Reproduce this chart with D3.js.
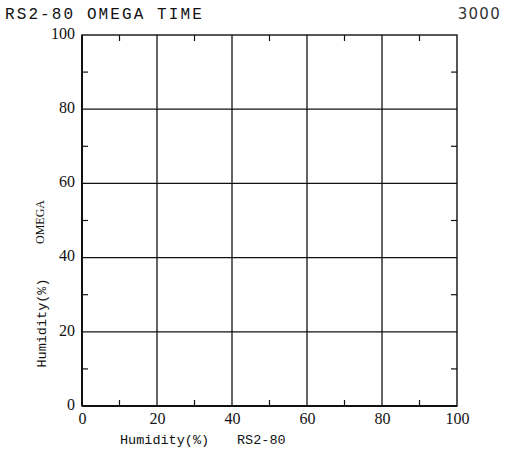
<!DOCTYPE html>
<html>
<head>
<meta charset="utf-8">
<script src="https://cdn.jsdelivr.net/npm/d3@7"></script>
<style>
  body { margin: 0; background: #fff; }
  svg { display: block; }
</style>
</head>
<body>
<div id="chart"></div>
<script>
// chart content
const titleText = "RS2-80 OMEGA TIME";
const cornerText = "3000";
const xLabel = "Humidity(%)";
const xLabel2 = "RS2-80";
const yLabelTop = "OMEGA";
const yLabelBottom = "Humidity(%)";
const xDomain = [0, 100];
const yDomain = [0, 100];
const majorTicks = [0, 20, 40, 60, 80, 100];
const minorTicks = [10, 30, 50, 70, 90];

const W = 513, H = 452;
const margin = {top: 35, right: 56, bottom: 46, left: 82},
    width = W - margin.left - margin.right,
    height = H - margin.top - margin.bottom;

const root = d3.select("#chart").append("svg")
    .attr("width", W)
    .attr("height", H);

const svg = root.append("g")
    .attr("transform", `translate(${margin.left},${margin.top})`);

const x = d3.scaleLinear().domain(xDomain).range([0, width]);
const y = d3.scaleLinear().domain(yDomain).range([height, 0]);

const ink = "#111";

// grid lines (major)
svg.selectAll(".vgrid")
  .data(majorTicks.slice(1, -1))
  .join("line")
    .attr("x1", d => x(d)).attr("x2", d => x(d))
    .attr("y1", 0).attr("y2", height)
    .attr("stroke", ink).attr("stroke-width", 1.3);

svg.selectAll(".hgrid")
  .data(majorTicks.slice(1, -1))
  .join("line")
    .attr("y1", d => y(d)).attr("y2", d => y(d))
    .attr("x1", 0).attr("x2", width)
    .attr("stroke", ink).attr("stroke-width", 1.3);

// minor ticks pointing inward on all four sides
const tl = 6;
const minor = svg.append("g").attr("stroke", ink).attr("stroke-width", 1.2);
minor.selectAll(".mb").data(minorTicks).join("line")
  .attr("x1", d => x(d)).attr("x2", d => x(d)).attr("y1", height).attr("y2", height - tl);
minor.selectAll(".mt").data(minorTicks).join("line")
  .attr("x1", d => x(d)).attr("x2", d => x(d)).attr("y1", 0).attr("y2", tl);
minor.selectAll(".ml").data(minorTicks).join("line")
  .attr("y1", d => y(d)).attr("y2", d => y(d)).attr("x1", 0).attr("x2", tl);
minor.selectAll(".mr").data(minorTicks).join("line")
  .attr("y1", d => y(d)).attr("y2", d => y(d)).attr("x1", width).attr("x2", width - tl);

// frame
svg.append("rect")
  .attr("x", 0).attr("y", 0)
  .attr("width", width).attr("height", height)
  .attr("fill", "none").attr("stroke", ink).attr("stroke-width", 1.4);
svg.append("line") // heavier left axis
  .attr("x1", 0).attr("x2", 0).attr("y1", 0).attr("y2", height)
  .attr("stroke", ink).attr("stroke-width", 2);
svg.append("line") // heavier bottom axis
  .attr("x1", 0).attr("x2", width).attr("y1", height).attr("y2", height)
  .attr("stroke", ink).attr("stroke-width", 2);

// axes only for labels
const xAxis = svg.append("g")
  .attr("transform", `translate(0,${height})`)
  .call(d3.axisBottom(x).tickValues(majorTicks).tickSize(0).tickPadding(7));
const yAxis = svg.append("g")
  .call(d3.axisLeft(y).tickValues(majorTicks).tickSize(0).tickPadding(7));

[xAxis, yAxis].forEach(g => {
  g.select(".domain").remove();
  g.selectAll("text")
    .attr("font-family", "'Liberation Serif', 'Times New Roman', serif")
    .attr("font-size", 16)
    .attr("fill", ink);
});
yAxis.selectAll("text").attr("dy", "0.2em");

// title and corner number
root.append("text")
  .attr("x", 5).attr("y", 19)
  .attr("font-family", "'Liberation Mono', 'Courier New', monospace")
  .attr("font-size", 16)
  .attr("letter-spacing", 2.1)
  .attr("fill", ink)
  .text(titleText);

root.append("text")
  .attr("x", 501).attr("y", 19)
  .attr("text-anchor", "end")
  .attr("font-family", "'DejaVu Sans', sans-serif")
  .attr("font-size", 15)
  .attr("letter-spacing", 1.3)
  .attr("fill", "#333")
  .text(cornerText);

// x axis title
root.append("text")
  .attr("x", 120).attr("y", 444)
  .attr("font-family", "'Liberation Mono', 'Courier New', monospace")
  .attr("font-size", 13.5)
  .attr("fill", ink)
  .text(xLabel);
root.append("text")
  .attr("x", 237).attr("y", 444)
  .attr("font-family", "'Liberation Mono', 'Courier New', monospace")
  .attr("font-size", 13.5)
  .attr("fill", ink)
  .text(xLabel2);

// y axis titles (rotated)
root.append("text")
  .attr("transform", "translate(44,222) rotate(-90)")
  .attr("text-anchor", "middle")
  .attr("font-family", "'Liberation Serif', 'Times New Roman', serif")
  .attr("font-size", 12)
  .attr("fill", ink)
  .text(yLabelTop);
root.append("text")
  .attr("transform", "translate(46,323) rotate(-90)")
  .attr("text-anchor", "middle")
  .attr("font-family", "'Liberation Mono', 'Courier New', monospace")
  .attr("font-size", 13.5)
  .attr("fill", ink)
  .text(yLabelBottom);
</script>
</body>
</html>
